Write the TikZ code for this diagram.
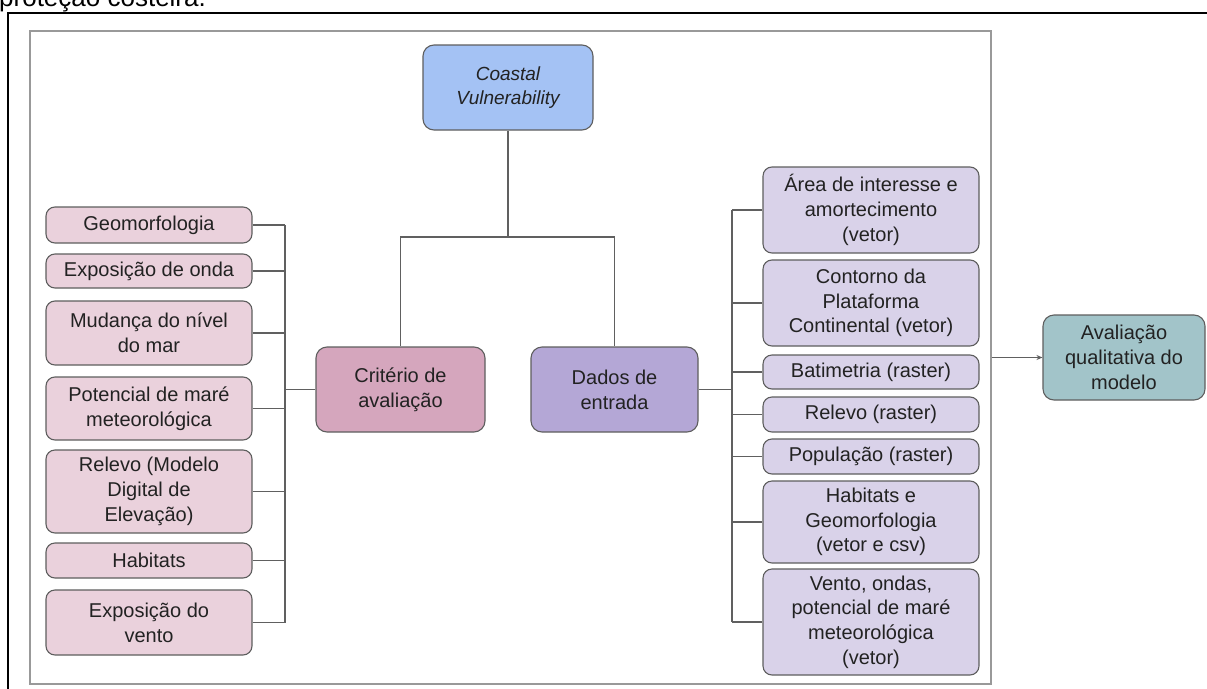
\documentclass[tikz,border=0pt]{standalone}
\usepackage{fontspec}
\setmainfont{Liberation Sans}
\usetikzlibrary{arrows.meta}

\definecolor{edgegray}{HTML}{5E5E5E}
\definecolor{linegray}{HTML}{606060}
\definecolor{framegray}{HTML}{999999}
\definecolor{inkc}{HTML}{222222}
\definecolor{blueA}{HTML}{A4C2F4}
\definecolor{magentaA}{HTML}{D5A6BD}
\definecolor{purpleA}{HTML}{B4A7D6}
\definecolor{magentaB}{HTML}{EAD1DC}
\definecolor{purpleB}{HTML}{D9D2E9}
\definecolor{cyanA}{HTML}{A2C4C9}

\tikzset{
  box/.style={draw=edgegray, line width=1.1pt, rounded corners=9pt,
    align=center, text=inkc, inner sep=0pt,
    font=\fontsize{20}{24.7}\selectfont},
  bigbox/.style={box, minimum height=85, rounded corners=11pt},
  leftbox/.style={box, fill=magentaB, minimum width=206},
  rightbox/.style={box, fill=purpleB, minimum width=216},
  link/.style={draw=linegray, line width=1.1pt},
}

\begin{document}
\begin{tikzpicture}[x=1pt, y=-1pt]
\useasboundingbox (0,0) rectangle (1207,688);
\clip (0,0) rectangle (1207,688);

% caption line running in from above, and the page frame
\node[anchor=base west, inner sep=0pt, text=black,
      font=\fontsize{26}{30}\selectfont] (caption) at (-1,6.5) {proteção costeira.};
\draw[line width=2pt, black] (8,700) -- (8,13) -- (1220,13);

% group frame
\node[draw=framegray, line width=1.3pt, minimum width=961, minimum height=653,
      inner sep=0pt] (frame) at (510.5,357.5) {};

% main nodes
\node[bigbox, fill=blueA, minimum width=170, font=\fontsize{19}{24}\selectfont\itshape]
  (cv) at (508,87.5) {Coastal\\Vulnerability};
\node[bigbox, fill=magentaA, minimum width=169] (crit) at (400.5,389.5) {Critério de\\avaliação};
\node[bigbox, fill=purpleA, minimum width=167] (dados) at (614.5,389.5) {Dados de\\entrada};
\node[bigbox, fill=cyanA, minimum width=162] (ava) at (1124,357.5) {Avaliação\\qualitativa do\\modelo};

% evaluation criteria
\node[leftbox, minimum height=36] (geo)   at (149,225)   {Geomorfologia};
\node[leftbox, minimum height=34] (onda)  at (149,271)   {Exposição de onda};
\node[leftbox, minimum height=64] (mud)   at (149,333)   {Mudança do nível\\do mar};
\node[leftbox, minimum height=63] (pot)   at (149,408.5) {Potencial de maré\\meteorológica};
\node[leftbox, minimum height=83] (mde)   at (149,491.5) {Relevo (Modelo\\Digital de\\Elevação)};
\node[leftbox, minimum height=35] (hab)   at (149,560.5) {Habitats};
\node[leftbox, minimum height=65] (vento) at (149,622.5) {Exposição do\\vento};

% input data
\node[rightbox, minimum height=86]  (area) at (871,210)   {Área de interesse e\\amortecimento\\(vetor)};
\node[rightbox, minimum height=86]  (cont) at (871,303)   {Contorno da\\Plataforma\\Continental (vetor)};
\node[rightbox, minimum height=34]  (bat)  at (871,372)   {Batimetria (raster)};
\node[rightbox, minimum height=35]  (relr) at (871,414.5) {Relevo (raster)};
\node[rightbox, minimum height=35]  (pop)  at (871,456.5) {População (raster)};
\node[rightbox, minimum height=82]  (habr) at (871,522)   {Habitats e\\Geomorfologia\\(vetor e csv)};
\node[rightbox, minimum height=106] (ven)  at (871,622)   {Vento, ondas,\\potencial de maré\\meteorológica\\(vetor)};

% tree from the root
\coordinate (bar) at (508,237);
\draw[link] (cv.south) -- (bar);
\draw[link] (crit.north) |- (bar) -| (dados.north);

% left bus
\coordinate (lbus) at (285,0);
\draw[link] (geo.east -| lbus) -- (vento.east -| lbus);
\foreach \n in {geo,onda,mud,pot,mde,hab,vento}
  \draw[link] (\n.east) -- (\n.east -| lbus);
\draw[link] (crit.west) -- (crit.west -| lbus);

% right bus
\coordinate (rbus) at (732,0);
\draw[link] (area.west -| rbus) -- (ven.west -| rbus);
\foreach \n in {area,cont,bat,relr,pop,habr,ven}
  \draw[link] (\n.west) -- (\n.west -| rbus);
\draw[link] (dados.east) -- (dados.east -| rbus);

% output
\draw[link, -{Stealth[length=6pt, width=5pt]}] (frame.east) -- (ava.west);
\end{tikzpicture}
\end{document}
